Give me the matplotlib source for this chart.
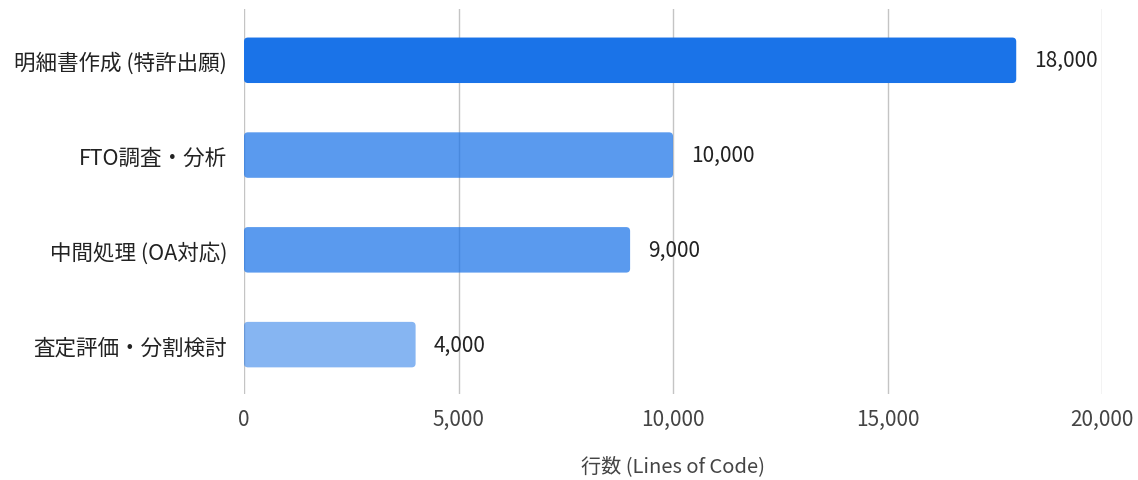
import matplotlib
matplotlib.use("Agg")
import matplotlib.pyplot as plt
from matplotlib.patches import FancyBboxPatch

plt.rcParams['font.family'] = ['Noto Sans CJK JP', 'DejaVu Sans']

categories = ['明細書作成 (特許出願)', 'FTO調査・分析', '中間処理 (OA対応)', '査定評価・分割検討']
values = [18000, 10000, 9000, 4000]
alphas = [1.0, 0.72, 0.72, 0.53]
value_labels = ['18,000', '10,000', '9,000', '4,000']
xticks = [0, 5000, 10000, 15000, 20000]
xtick_labels = ['0', '5,000', '10,000', '15,000', '20,000']

fig = plt.figure(figsize=(11.38, 4.81), dpi=100)
ax = fig.add_axes([0.2144, 0.179, 0.754, 0.8])

ax.set_xlim(0, 20000)
ax.set_ylim(3.52, -0.54)

# rounded corners: convert pixel radius to data units
x_per_px = 20000 / (0.754 * 1138)
y_per_px = 4.06 / (0.8 * 481)
h = 0.48
for i, (v, a) in enumerate(zip(values, alphas)):
    p = FancyBboxPatch((0, i - h / 2), v, h,
                       boxstyle="round,pad=0,rounding_size=%f" % (4 * x_per_px),
                       mutation_aspect=y_per_px / x_per_px,
                       facecolor='#1a73e8', alpha=a, edgecolor='none', zorder=3)
    ax.add_patch(p)
    ax.text(v + 18 * x_per_px, i, value_labels[i], va='center', ha='left',
            fontsize=15, color='#222222')

ax.set_yticks(range(len(categories)))
ax.set_yticklabels(categories, fontsize=15.5, color='#222222')
ax.set_xticks(xticks)
ax.set_xticklabels(xtick_labels, fontsize=15, color='#444444')
ax.tick_params(axis='both', length=0)
ax.tick_params(axis='y', pad=12)
ax.tick_params(axis='x', pad=10)
ax.grid(axis='x', color='#c4c4c4', linewidth=1, zorder=1)
ax.set_axisbelow(True)
for s in ax.spines.values():
    s.set_visible(False)

ax.set_xlabel('行数 (Lines of Code)', fontsize=14.5, color='#444444', labelpad=18)

fig.savefig('out.png', dpi=100)
